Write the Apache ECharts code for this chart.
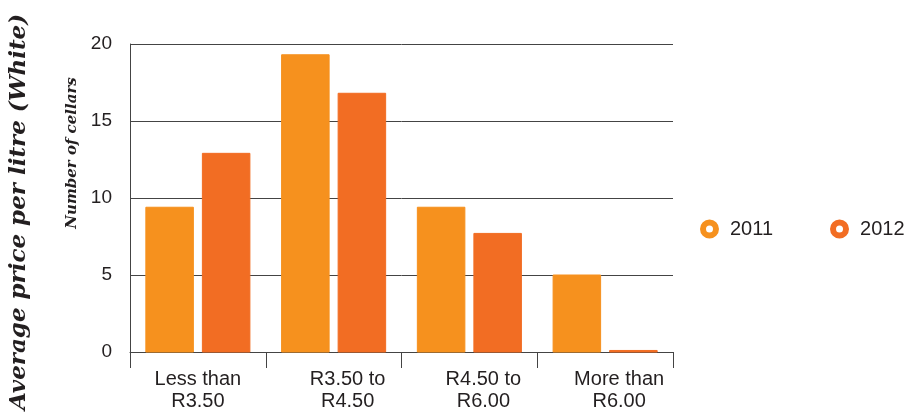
<!DOCTYPE html>
<html><head><meta charset="utf-8">
<script src="https://cdn.jsdelivr.net/npm/echarts@6/dist/echarts.min.js"></script>
<style>html,body{margin:0;padding:0;background:#fff}#c{width:912px;height:412px}</style>
</head><body><div id="c"></div>
<script>
const categories = ['Less than\nR3.50', 'R3.50 to\nR4.50', 'R4.50 to\nR6.00', 'More than\nR6.00'];
const values2011 = [9.4, 19.3, 9.4, 5.0];
const values2012 = [12.9, 16.8, 7.7, 0.1];
const yTicks = [0, 5, 10, 15, 20];
const seriesNames = ['2011', '2012'];
const colors = ['#F6911E', '#F26D23'];
const axisName = 'Number of cellars';
const outerTitle = 'Average price per litre (White)';

const chart = echarts.init(document.getElementById('c'));
const labelFont = '"Liberation Sans", Arial, sans-serif';
chart.setOption({
  animation: false,
  color: colors,
  grid: {left: 130, right: 239, top: 44, bottom: 60},
  legend: {
    data: seriesNames, left: 700, top: 219, width: 300, padding: 0, orient: 'horizontal',
    itemWidth: 13, itemHeight: 13, itemGap: 57,
    icon: 'circle',
    itemStyle: {borderWidth: 6, color: '#fff'},
    textStyle: {fontFamily: labelFont, fontSize: 20, color: '#231f20', padding: [0, 0, 0, 9]}
  },
  xAxis: {
    type: 'category', data: categories,
    axisLine: {lineStyle: {color: '#444', width: 1}},
    axisTick: {show: true, interval: 0, length: 16, lineStyle: {color: '#444'}},
    axisLabel: {
      interval: 0, hideOverlap: false,
      fontFamily: labelFont, fontSize: 20, color: '#231f20', lineHeight: 22, margin: 16,
      formatter: function (v, i) { return i === 0 ? '{a|' + v.replace('\n', '}\n{a|') + '}' : '{b|' + v.replace('\n', '}\n{b|') + '}'; },
      rich: {a: {fontFamily: labelFont, fontSize: 20, lineHeight: 22, color: '#231f20'},
             b: {fontFamily: labelFont, fontSize: 20, lineHeight: 22, color: '#231f20', padding: [0, 0, 0, 28]}}
    }
  },
  yAxis: {
    type: 'value', min: yTicks[0], max: yTicks[yTicks.length - 1], interval: 5,
    axisLine: {show: true, lineStyle: {color: '#444', width: 1}},
    axisTick: {show: false},
    splitLine: {lineStyle: {color: '#444', width: 1}},
    axisLabel: {fontFamily: labelFont, fontSize: 19, color: '#231f20', margin: 18}
  },
  graphic: [
    {type: 'text', x: 19, y: 212, rotation: Math.PI / 2,
     style: {text: outerTitle, font: 'italic bold 23px "DejaVu Serif", serif', fill: '#231f20', align: 'center', verticalAlign: 'middle'}},
    {type: 'text', x: 72, y: 153, rotation: Math.PI / 2,
     style: {text: axisName, font: 'italic bold 15px "DejaVu Serif", serif', fill: '#231f20', align: 'center', verticalAlign: 'middle'}}
  ],
  series: [
    {name: seriesNames[0], type: 'bar', data: values2011, barWidth: '35%', barGap: '19%', itemStyle: {color: colors[0], borderColor: colors[0]}},
    {name: seriesNames[1], type: 'bar', data: values2012, barWidth: '35%', barGap: '19%', itemStyle: {color: colors[1], borderColor: colors[1]}}
  ]
});
</script></body></html>
